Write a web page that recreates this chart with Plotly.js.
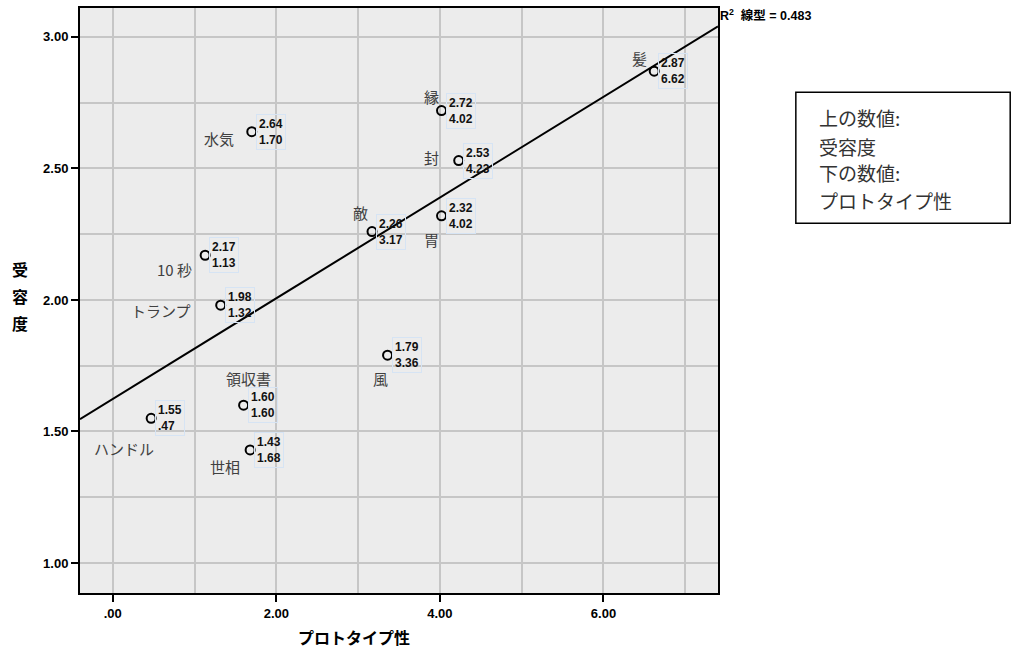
<!DOCTYPE html>
<html>
<head>
<meta charset="utf-8">
<script src="https://cdn.plot.ly/plotly-3.0.1.min.js"></script>
<style>html,body{margin:0;padding:0;background:#fff;}#chart{width:1013px;height:652px;}</style>
</head>
<body>
<div id="chart"></div>
<script>
// ---- data ----
const words = ['髪', '縁', '封', '水気', '胃', '敵', '10 秒', 'トランプ', '風', '領収書', 'ハンドル', '世相'];
const prototypicality = [6.62, 4.02, 4.23, 1.70, 4.02, 3.17, 1.13, 1.32, 3.36, 1.60, 0.47, 1.68];
const acceptance = [2.87, 2.72, 2.53, 2.64, 2.32, 2.26, 2.17, 1.98, 1.79, 1.60, 1.55, 1.43];
const fitLineX = [-0.4, 7.4];
const fitLineY = [1.547, 3.040];
const rSquaredText = '0.483';
const xTickVals = [0, 2, 4, 6];
const xTickText = ['.00', '2.00', '4.00', '6.00'];
const yTickVals = [1.0, 1.5, 2.0, 2.5, 3.0];
const yTickText = ['1.00', '1.50', '2.00', '2.50', '3.00'];
const noteLines = ['上の数値:', '受容度', '下の数値:', 'プロトタイプ性'];

// ---- label placement (pixel offsets of the word labels from each marker) ----
const wordShift = [
  [-15, 13], [-10, 14], [-27, 3], [-33, -7], [-10, -24], [-12, 19],
  [-31, -14], [-60, -5], [-7, -23], [5, 27], [-27, -30], [-25, -17]
];

function spssFmt(v) {
  let s = v.toFixed(2);
  if (s.startsWith('0.')) s = s.slice(1);
  return s;
}

const traces = [
  {
    x: fitLineX, y: fitLineY, mode: 'lines', type: 'scatter',
    line: {color: '#000', width: 2}, hoverinfo: 'skip', showlegend: false
  },
  {
    x: prototypicality, y: acceptance, mode: 'markers', type: 'scatter',
    marker: {symbol: 'circle-open', size: 9, color: '#000', line: {width: 2, color: '#000'}},
    showlegend: false
  }
];

const annotations = [];
for (let i = 0; i < words.length; i++) {
  annotations.push({
    x: prototypicality[i], y: acceptance[i], xref: 'x', yref: 'y',
    text: '<b>' + spssFmt(acceptance[i]) + '<br>' + spssFmt(prototypicality[i]) + '</b>',
    showarrow: false, xanchor: 'left', yanchor: 'middle', xshift: 4, yshift: 0,
    align: 'left',
    font: {family: 'Liberation Sans, Arial, sans-serif', size: 12, color: '#111'},
    bordercolor: '#d6e4f4', borderwidth: 1, borderpad: 2
  });
  annotations.push({
    x: prototypicality[i], y: acceptance[i], xref: 'x', yref: 'y',
    text: words[i], showarrow: false, xanchor: 'center', yanchor: 'middle',
    xshift: wordShift[i][0], yshift: wordShift[i][1],
    font: {family: 'Noto Sans CJK JP, sans-serif', size: 15, color: '#404040'}
  });
}
// R squared label
annotations.push({
  xref: 'paper', yref: 'paper', x: 1.0, y: 0.988, xanchor: 'left', yanchor: 'middle',
  text: '<b>R<sup>2</sup>  線型 = ' + rSquaredText + '</b>', showarrow: false,
  font: {family: 'Liberation Sans, Noto Sans CJK JP, sans-serif', size: 12.5, color: '#000'}
});
// note box text
const noteY = [0.813, 0.764, 0.719, 0.671];
for (let k = 0; k < noteLines.length; k++) {
  annotations.push({
    xref: 'paper', yref: 'paper', x: 1.155, y: noteY[k], xanchor: 'left', yanchor: 'middle',
    text: noteLines[k], showarrow: false,
    font: {family: 'Noto Sans CJK JP, sans-serif', size: 19, color: '#333'}
  });
}
// axis titles
annotations.push({
  xref: 'paper', yref: 'paper', x: 0.4295, y: -0.075, xanchor: 'center', yanchor: 'middle',
  text: '<b>プロトタイプ性</b>', showarrow: false,
  font: {family: 'Noto Sans CJK JP, sans-serif', size: 16, color: '#000'}
});
const yTitleChars = ['受', '容', '度'];
const yTitleY = [0.553, 0.507, 0.462];
for (let k = 0; k < 3; k++) {
  annotations.push({
    xref: 'paper', yref: 'paper', x: -0.094, y: yTitleY[k], xanchor: 'center', yanchor: 'middle',
    text: '<b>' + yTitleChars[k] + '</b>', showarrow: false,
    font: {family: 'Noto Sans CJK JP, sans-serif', size: 16, color: '#000'}
  });
}

const gridCol = '#c6c6c6';
const tickFont = {family: 'Liberation Sans, Arial, sans-serif', size: 13, color: '#000', weight: 'bold'};
const layout = {
  width: 1013, height: 652,
  margin: {l: 80, r: 295, t: 8, b: 59},
  paper_bgcolor: '#fff', plot_bgcolor: '#ececec',
  showlegend: false,
  xaxis: {
    range: [-0.4, 7.4], tickvals: xTickVals, ticktext: xTickText,
    showgrid: true, gridcolor: gridCol, gridwidth: 2,
    minor: {dtick: 1, tick0: 0, showgrid: true, gridcolor: gridCol, gridwidth: 2, ticks: ''},
    zeroline: false, showline: true, linecolor: '#000', linewidth: 2, mirror: true,
    ticks: 'outside', ticklen: 7, tickwidth: 2, tickcolor: '#000',
    tickfont: tickFont
  },
  yaxis: {
    range: [0.886, 3.11], tickvals: yTickVals, ticktext: yTickText,
    showgrid: true, gridcolor: gridCol, gridwidth: 2,
    minor: {dtick: 0.25, tick0: 0, showgrid: true, gridcolor: gridCol, gridwidth: 2, ticks: ''},
    zeroline: false, showline: true, linecolor: '#000', linewidth: 2, mirror: true,
    ticks: 'outside', ticklen: 7, tickwidth: 2, tickcolor: '#000',
    tickfont: tickFont
  },
  shapes: [{
    type: 'rect', xref: 'paper', yref: 'paper',
    x0: 1.122, x1: 1.458, y0: 0.632, y1: 0.856,
    line: {color: '#000', width: 1.5}, fillcolor: 'rgba(0,0,0,0)'
  }],
  annotations: annotations
};

Plotly.newPlot('chart', traces, layout, {displayModeBar: false, staticPlot: true});
</script>
</body>
</html>
